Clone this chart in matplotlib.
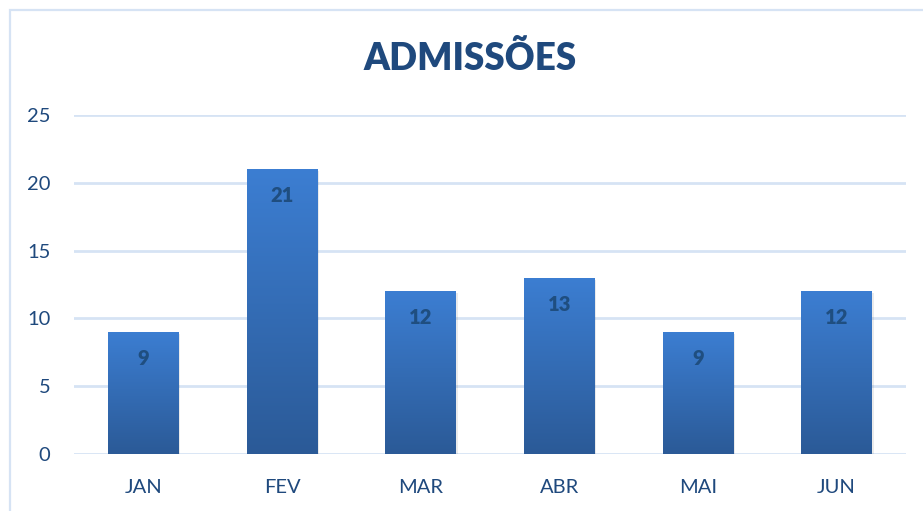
import numpy as np
import matplotlib
matplotlib.use("Agg")
import matplotlib.pyplot as plt
from matplotlib.colors import LinearSegmentedColormap
from matplotlib.patches import Rectangle

# dados
meses = ["JAN", "FEV", "MAR", "ABR", "MAI", "JUN"]
admissoes = [9, 21, 12, 13, 9, 12]
yticks = [0, 5, 10, 15, 20, 25]

azul_txt = "#1f497d"
grade = "#d6e3f4"

plt.rcParams['font.family'] = ['Lato', 'DejaVu Sans']

fig = plt.figure(figsize=(9.23, 5.11), dpi=100)
ax = fig.add_axes([74 / 923, 57 / 511, 832 / 923, 339 / 511])

# moldura do grafico
fig.patches.append(Rectangle((10 / 923, -0.1), 1.2, 1 - 10 / 511 + 0.1,
                             transform=fig.transFigure, fill=False,
                             edgecolor=grade, linewidth=1.6))

x = np.arange(len(meses))
bars = ax.bar(x, admissoes, width=0.51, color="none", zorder=3)

# gradiente nas barras
cmap = LinearSegmentedColormap.from_list("azul", ["#2b5a97", "#3c7ed2"])
grad = np.linspace(0, 1, 256).reshape(-1, 1)
for b in bars:
    x0, y0 = b.get_x(), b.get_y()
    w, h = b.get_width(), b.get_height()
    im = ax.imshow(grad, cmap=cmap, origin="lower", aspect="auto",
                   extent=(x0, x0 + w, y0, y0 + h), zorder=3)
    im.set_clip_path(b)
    # sombra leve
    ax.add_patch(Rectangle((x0 + 0.012, y0), w, h - 0.15, color="#000000",
                           alpha=0.08, zorder=2, linewidth=0))

for xi, v in zip(x, admissoes):
    ax.annotate(str(v), (xi, v), xytext=(0, -19), textcoords="offset points",
                ha="center", va="center", fontsize=14.5, fontweight="heavy",
                color="#1f4e80", zorder=5)

ax.set_xlim(-0.5, len(meses) - 0.5)
ax.set_ylim(0, 25)
ax.set_yticks(yticks)
ax.set_xticks(x)
ax.set_xticklabels(meses)
ax.yaxis.grid(True, color=grade, linewidth=2)
ax.set_axisbelow(True)
for s in ax.spines.values():
    s.set_visible(False)
ax.tick_params(axis="both", length=0, labelsize=14.5, colors=azul_txt)
ax.tick_params(axis="y", pad=17)
ax.tick_params(axis="x", pad=18)

fig.text(470 / 923, 1 - 58 / 511, "ADMISSÕES", ha="center", va="center",
         fontsize=26.5, fontweight="heavy", color=azul_txt)

fig.savefig("out.png", dpi=100)
